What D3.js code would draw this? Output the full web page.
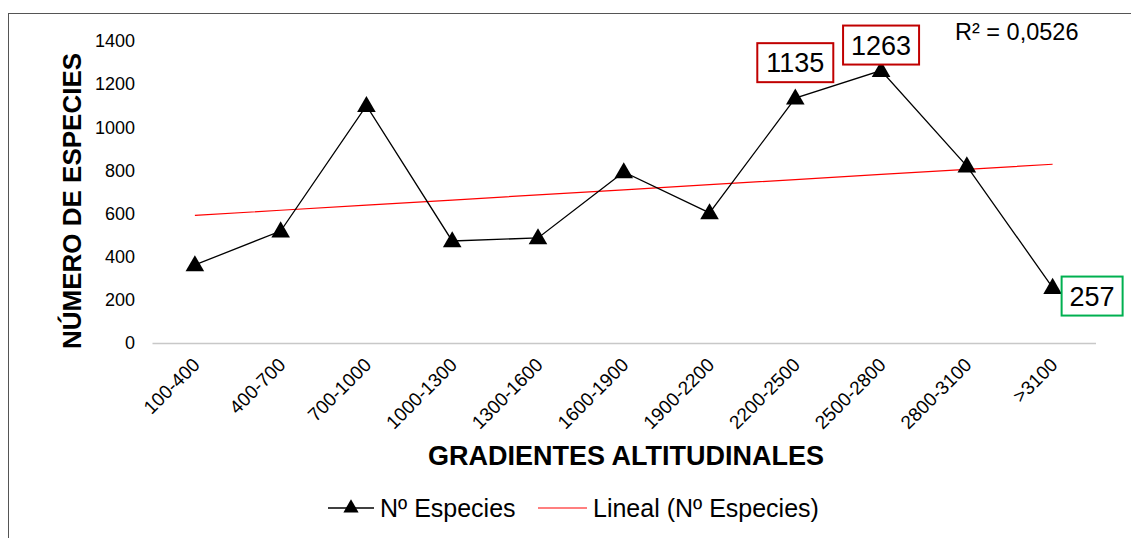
<!DOCTYPE html>
<html>
<head>
<meta charset="utf-8">
<script src="https://cdn.jsdelivr.net/npm/d3@7"></script>
<style>
  body { margin: 0; background: #fff; }
  text { font-family: "Liberation Sans", Arial, sans-serif; }
</style>
</head>
<body>
<svg id="chart"></svg>
<script>
const categories = ["100-400", "400-700", "700-1000", "1000-1300", "1300-1600", "1600-1900",
  "1900-2200", "2200-2500", "2500-2800", "2800-3100", ">3100"]
const especies = [362, 519, 1100, 473, 487, 793, 603, 1135, 1263, 820, 257]
const yTicks = [0, 200, 400, 600, 800, 1000, 1200, 1400]
const highlighted = ["2200-2500", "2500-2800"]
const lowest = [">3100"]

const dimensions = { width: 1131, height: 538 }
const margin = { left: 152, right: 34, top: 41, bottom: 195 }

const svg = d3.select("#chart")
  .attr("width", dimensions.width)
  .attr("height", dimensions.height)

// chart frame
svg.append("rect")
  .attr("x", 8.5).attr("y", 13.5)
  .attr("width", 1140).attr("height", 540)
  .attr("fill", "none")
  .attr("stroke", "#555")
  .attr("stroke-width", 1)

const x = d3.scaleBand()
  .domain(categories)
  .range([margin.left, dimensions.width - margin.right - 1.5])

const y = d3.scaleLinear()
  .domain([0, 1400])
  .range([dimensions.height - margin.bottom, margin.top])

const cx = d => x(d) + x.bandwidth() / 2

// y axis labels (no line)
const yAxis = svg.append("g")
  .attr("transform", "translate(" + margin.left + ",0)")
  .call(d3.axisLeft(y).tickValues(yTicks).tickSize(0).tickPadding(17).tickFormat(d3.format("d")))
yAxis.select(".domain").remove()
yAxis.selectAll("text")
  .attr("font-size", 18)
  .attr("font-family", "Liberation Sans, Arial, sans-serif")
  .attr("fill", "#000")

// x axis
const xAxis = svg.append("g")
  .attr("transform", "translate(0," + y(0) + ")")
  .call(d3.axisBottom(x).tickSize(0).tickPadding(0))
xAxis.select(".domain").attr("stroke", "#c8c8c8").attr("stroke-width", 1.5)
xAxis.selectAll("text")
  .attr("font-size", 19)
  .attr("font-family", "Liberation Sans, Arial, sans-serif")
  .attr("fill", "#000")
  .attr("text-anchor", "end")
  .attr("dy", 0)
  .attr("transform", "translate(6,23) rotate(-45)")

// trend line (least squares)
const n = especies.length
const xs = d3.range(1, n + 1)
const mx = d3.mean(xs), my = d3.mean(especies)
const slope = d3.sum(xs, (v, i) => (v - mx) * (especies[i] - my)) / d3.sum(xs, v => (v - mx) * (v - mx))
const intercept = my - slope * mx
const trend = xs.map(v => intercept + slope * v)

svg.append("path")
  .datum(trend)
  .attr("d", d3.line()
    .x((d, i) => cx(categories[i]))
    .y(d => y(d)))
  .attr("fill", "none")
  .attr("stroke", "#ff0000")
  .attr("stroke-width", 1.2)

// series line
svg.append("path")
  .datum(especies)
  .attr("d", d3.line()
    .x((d, i) => cx(categories[i]))
    .y(d => y(d)))
  .attr("fill", "none")
  .attr("stroke", "#000")
  .attr("stroke-width", 1.3)

const tri = d3.symbol().type(d3.symbolTriangle).size(150)

svg.selectAll(".marker")
  .data(especies)
  .enter().append("path")
  .attr("class", "marker")
  .attr("d", tri)
  .attr("transform", (d, i) => "translate(" + cx(categories[i]) + "," + (y(d) + 1) + ")")
  .attr("fill", "#000")

// labelled points
function labelBox(cat, color, place) {
  const i = categories.indexOf(cat)
  const v = especies[i]
  const w = v >= 1000 ? 76 : 61, h = 39
  let bx, by
  if (place === "above") {
    bx = cx(cat) - w / 2
    by = y(v) - 16 - h - (v > 1200 ? -10 : 0)
  } else {
    bx = cx(cat) + 9
    by = y(v) - 11
  }
  svg.append("rect")
    .attr("x", bx).attr("y", by)
    .attr("width", w).attr("height", h)
    .attr("fill", "#fff")
    .attr("stroke", color)
    .attr("stroke-width", 2)
  svg.append("text")
    .attr("x", bx + w / 2).attr("y", by + h / 2 + 9.5)
    .attr("text-anchor", "middle")
    .attr("font-size", 27)
    .text(v)
}
highlighted.forEach(c => labelBox(c, "#c00000", "above"))
lowest.forEach(c => labelBox(c, "#00b050", "right"))

// R2
svg.append("text")
  .attr("x", 955).attr("y", 40)
  .attr("font-size", 23.5)
  .text("R² = 0,0526")

// axis titles
svg.append("text")
  .attr("transform", "translate(81,201) rotate(-90)")
  .attr("text-anchor", "middle")
  .attr("font-size", 26)
  .attr("font-weight", "bold")
  .text("NÚMERO DE ESPECIES")

svg.append("text")
  .attr("x", 626).attr("y", 465)
  .attr("text-anchor", "middle")
  .attr("font-size", 27)
  .attr("font-weight", "bold")
  .text("GRADIENTES ALTITUDINALES")

// legend
const legend = svg.append("g").attr("transform", "translate(0,508)")
legend.append("line").attr("x1", 328).attr("x2", 374).attr("stroke", "#000").attr("stroke-width", 1.3)
legend.append("path").attr("d", d3.symbol().type(d3.symbolTriangle).size(100)).attr("transform", "translate(351,0)")
legend.append("text").attr("x", 380).attr("y", 9).attr("font-size", 25).text("Nº Especies")
legend.append("line").attr("x1", 538).attr("x2", 587).attr("stroke", "#ff0000").attr("stroke-width", 1.2)
legend.append("text").attr("x", 593).attr("y", 9).attr("font-size", 25).text("Lineal (Nº Especies)")
</script>
</body>
</html>
